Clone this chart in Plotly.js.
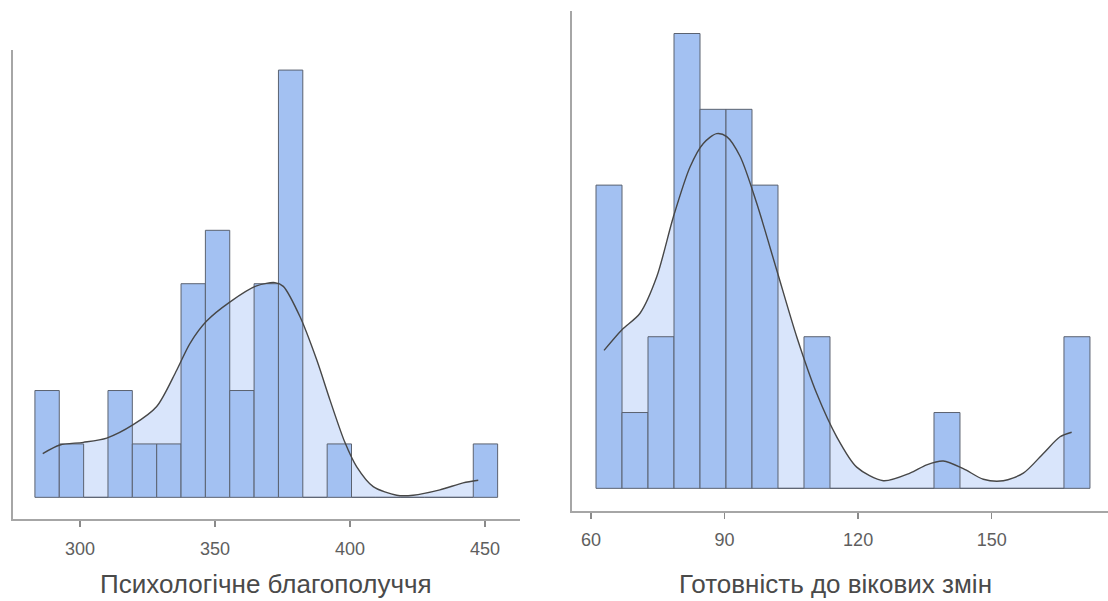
<!DOCTYPE html>
<html>
<head>
<meta charset="utf-8">
<script src="https://cdn.plot.ly/plotly-3.0.1.min.js"></script>
<style>
  html, body { margin: 0; padding: 0; background: #ffffff; }
  #chart { width: 1108px; height: 601px; }
</style>
</head>
<body>
<div id="chart"></div>
<script>
// ---- Психологічне благополуччя: histogram (19 bins) ----
const wellbeingTitle = 'Психологічне благополуччя';
const wellbeingBinStart = 283.3;
const wellbeingBinWidth = 9.02;
const wellbeingCounts = [2, 1, 0, 2, 1, 1, 4, 5, 2, 4, 8, 0, 1, 0, 0, 0, 0, 0, 1];
const wellbeingTicks = [300, 350, 400, 450];
// density curve, scaled to counts
const wellbeingCurveX = [286.2, 292.6, 301.2, 309.9, 319.7, 328.4, 335.8, 340.7, 346.9, 355.6,
  365.4, 372.2, 375.3, 381.5, 387.7, 392.6, 398.1, 402.5, 408.6, 417.3, 423.4, 433.3, 441.9, 447.5];
const wellbeingCurveY = [0.82, 0.98, 1.03, 1.11, 1.36, 1.70, 2.38, 2.88, 3.30, 3.66,
  3.96, 4.02, 3.95, 3.38, 2.57, 1.82, 1.03, 0.57, 0.20, 0.04, 0.04, 0.14, 0.27, 0.32];

// ---- Готовність до вікових змін: histogram (19 bins) ----
const readinessTitle = 'Готовність до вікових змін';
const readinessBinStart = 61.12;
const readinessBinWidth = 5.84;
const readinessCounts = [4, 1, 2, 6, 5, 5, 4, 0, 2, 0, 0, 0, 0, 1, 0, 0, 0, 0, 2];
const readinessTicks = [60, 90, 120, 150];
const readinessCurveX = [62.92, 66.90, 71.01, 74.76, 78.49, 82.24, 85.22, 88.23, 90.48, 93.47,
  97.22, 101.71, 106.20, 110.70, 115.19, 119.68, 125.66, 131.65, 135.40, 139.13,
  143.62, 148.12, 152.61, 157.10, 161.60, 165.35, 167.97];
const readinessCurveY = [1.82, 2.09, 2.31, 2.79, 3.58, 4.24, 4.55, 4.68, 4.64, 4.38,
  3.76, 2.88, 2.00, 1.25, 0.68, 0.28, 0.10, 0.20, 0.31, 0.36,
  0.26, 0.12, 0.10, 0.20, 0.46, 0.68, 0.74];

// ---- styling ----
const BAR_FILL = '#a3c1f2';
const BAR_EDGE = '#5b6270';
const AREA_FILL = '#d9e5fb';
const CURVE = '#474747';
const AXIS_GREY = '#a6a6a6';
const FONT = 'Liberation Sans, Arial, sans-serif';

function binCenters(start, width, counts) {
  return counts.map((_, i) => start + width * (i + 0.5));
}

// Three layers per panel: shaded area (base axes), bars + curve (overlay axes)
function panelTraces(start, width, counts, cx, cy, baseX, baseY, topX, topY) {
  return [
    {
      type: 'scatter', mode: 'lines', x: cx, y: cy,
      xaxis: baseX, yaxis: baseY,
      fill: 'tozeroy', fillcolor: AREA_FILL,
      line: { width: 0, color: AREA_FILL, shape: 'spline', smoothing: 0.8 },
      hoverinfo: 'skip', showlegend: false
    },
    {
      type: 'bar', x: binCenters(start, width, counts), y: counts,
      width: width, xaxis: topX, yaxis: topY,
      marker: { color: BAR_FILL, line: { color: BAR_EDGE, width: 1 } },
      showlegend: false
    },
    {
      type: 'scatter', mode: 'lines', x: cx, y: cy,
      xaxis: topX, yaxis: topY,
      line: { color: CURVE, width: 1.4, shape: 'spline', smoothing: 0.8 },
      hoverinfo: 'skip', showlegend: false
    }
  ];
}

const data = [].concat(
  panelTraces(wellbeingBinStart, wellbeingBinWidth, wellbeingCounts,
    wellbeingCurveX, wellbeingCurveY, 'x', 'y', 'x2', 'y2'),
  panelTraces(readinessBinStart, readinessBinWidth, readinessCounts,
    readinessCurveX, readinessCurveY, 'x3', 'y3', 'x4', 'y4')
);

const leftXRange = [275.07, 462.96];
const leftYRange = [-0.406, 8.376];
const rightXRange = [55.665, 176.13];
const rightYRange = [-0.2955, 6.297];

function baseX(domain, range, ticks, anchor) {
  return {
    domain: domain, range: range, anchor: anchor,
    showline: true, linecolor: AXIS_GREY, linewidth: 2,
    showgrid: false, zeroline: false,
    ticks: 'outside', ticklen: 6, tickwidth: 1.5, tickcolor: '#8a8a8a',
    tickmode: 'array', tickvals: ticks,
    ticklabelstandoff: 6,
    tickfont: { family: FONT, size: 18, color: '#5e5e5e' }
  };
}
function baseY(domain, range, anchor) {
  return {
    domain: domain, range: range, anchor: anchor,
    showline: true, linecolor: AXIS_GREY, linewidth: 2,
    showgrid: false, zeroline: false,
    ticks: '', showticklabels: false
  };
}
function overlay(over, range, anchor) {
  return { overlaying: over, range: range, anchor: anchor, visible: false,
    showgrid: false, zeroline: false };
}

const layout = {
  width: 1108, height: 601,
  margin: { l: 0, r: 0, t: 0, b: 0 },
  paper_bgcolor: '#ffffff', plot_bgcolor: 'rgba(0,0,0,0)',
  showlegend: false,
  bargap: 0,
  xaxis: baseX([0.01146, 0.4693], leftXRange, wellbeingTicks, 'y'),
  yaxis: baseY([0.1364, 0.9168], leftYRange, 'x'),
  xaxis2: overlay('x', leftXRange, 'y2'),
  yaxis2: overlay('y', leftYRange, 'x2'),
  xaxis3: baseX([0.516, 1], rightXRange, readinessTicks, 'y3'),
  yaxis3: baseY([0.1502, 0.9817], rightYRange, 'x3'),
  xaxis4: overlay('x3', rightXRange, 'y4'),
  yaxis4: overlay('y3', rightYRange, 'x4'),
  annotations: [
    { text: wellbeingTitle, xref: 'paper', yref: 'paper',
      x: 266 / 1108, y: 1 - 584 / 601, xanchor: 'center', yanchor: 'middle',
      showarrow: false, font: { family: FONT, size: 26, color: '#4a4a4a' } },
    { text: readinessTitle, xref: 'paper', yref: 'paper',
      x: 835 / 1108, y: 1 - 584 / 601, xanchor: 'center', yanchor: 'middle',
      showarrow: false, font: { family: FONT, size: 26, color: '#4a4a4a' } }
  ]
};

Plotly.newPlot('chart', data, layout, { staticPlot: true, displayModeBar: false });
</script>
</body>
</html>
